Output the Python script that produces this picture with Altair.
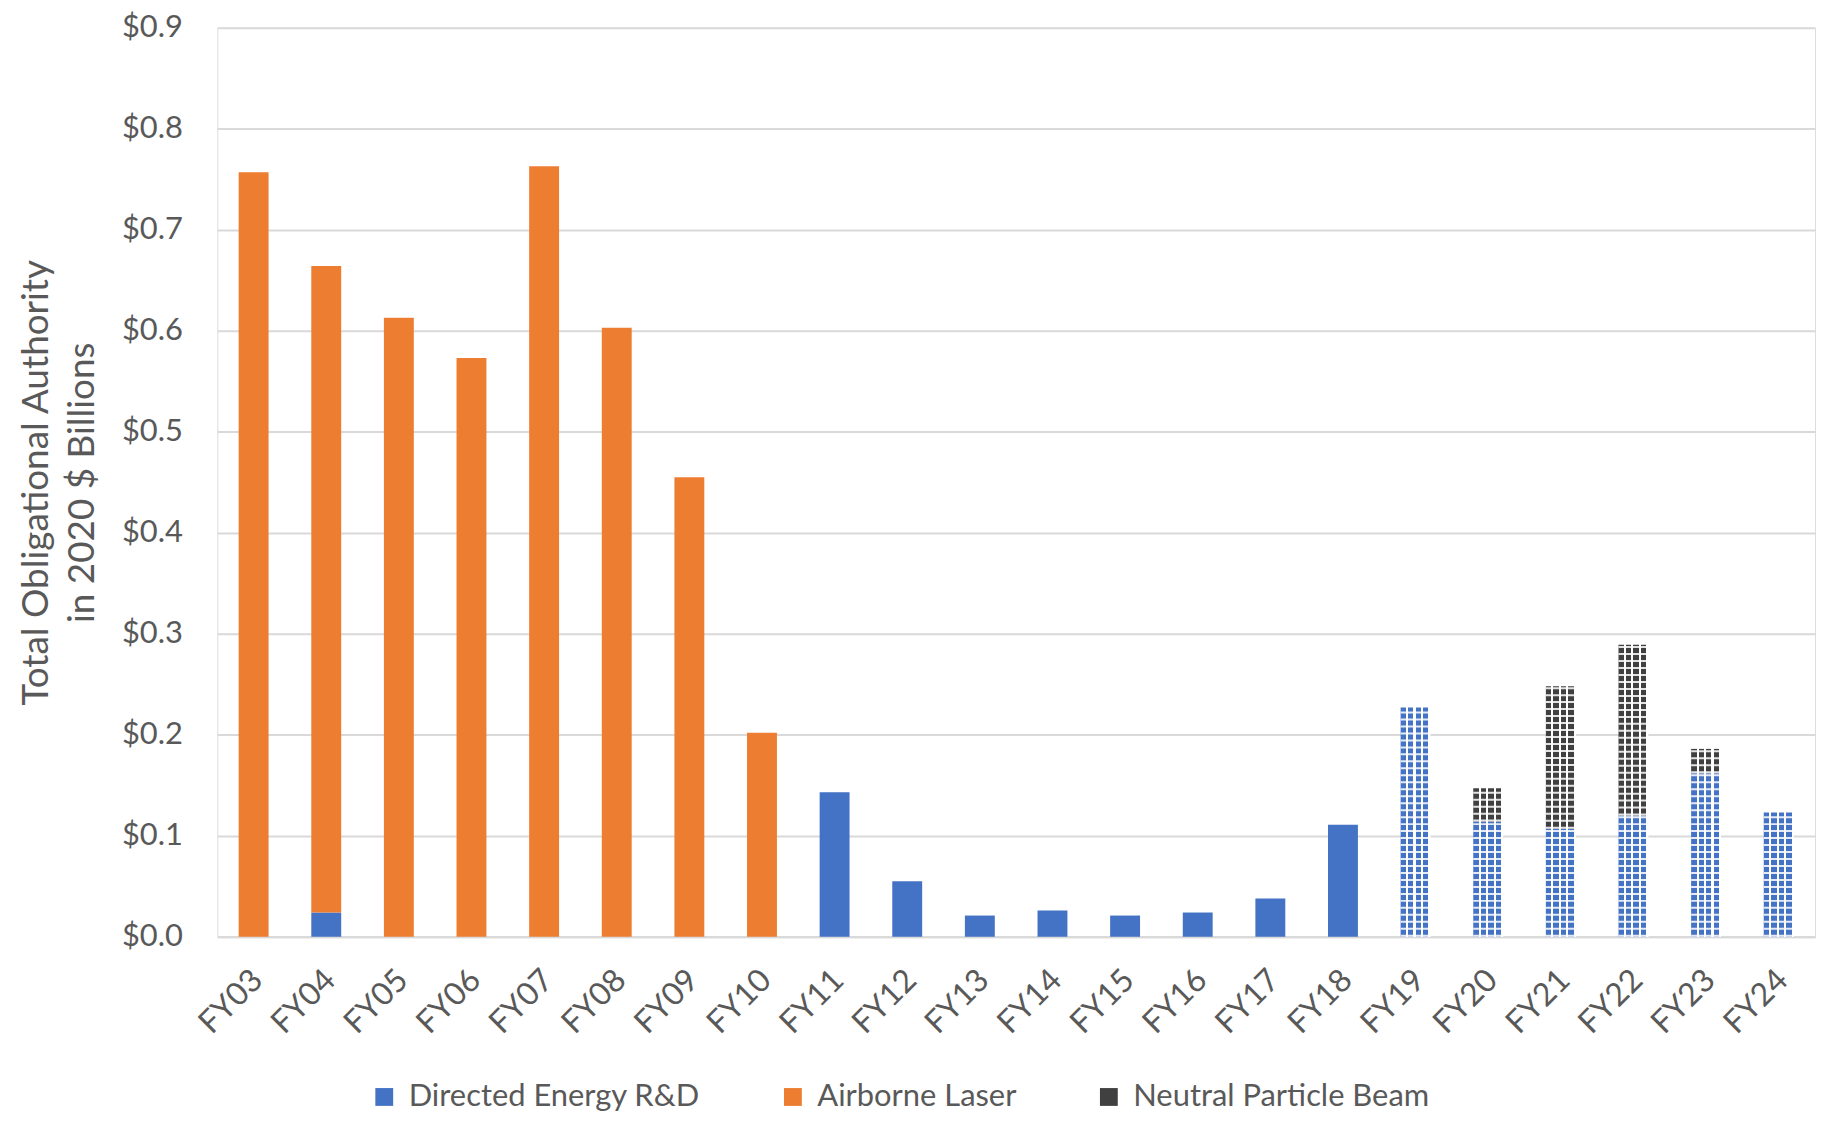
import altair as alt
import pandas as pd

years = ["FY03", "FY04", "FY05", "FY06", "FY07", "FY08", "FY09", "FY10", "FY11",
         "FY12", "FY13", "FY14", "FY15", "FY16", "FY17", "FY18", "FY19", "FY20",
         "FY21", "FY22", "FY23", "FY24"]
directed_energy = [0.0, 0.024, 0.0, 0.0, 0.0, 0.0, 0.0, 0.0, 0.143,
                   0.055, 0.021, 0.026, 0.021, 0.024, 0.038, 0.111, 0.227, 0.114,
                   0.107, 0.120, 0.162, 0.123]
airborne_laser = [0.757, 0.640, 0.613, 0.573, 0.763, 0.603, 0.455, 0.202, 0.0,
                  0.0, 0.0, 0.0, 0.0, 0.0, 0.0, 0.0, 0.0, 0.0,
                  0.0, 0.0, 0.0, 0.0]
neutral_particle_beam = [0.0, 0.0, 0.0, 0.0, 0.0, 0.0, 0.0, 0.0, 0.0,
                         0.0, 0.0, 0.0, 0.0, 0.0, 0.0, 0.0, 0.0, 0.033,
                         0.141, 0.169, 0.024, 0.0]
series_names = ["Directed Energy R&D", "Airborne Laser", "Neutral Particle Beam"]
patterned_from = "FY19"

BLUE = "#4472C4"
ORANGE = "#ED7D31"
GRAY = "#404040"
TEXT = "#595959"
GRID = "#D9D9D9"
FONT = "Lato"

rows = []
first_pat = years.index(patterned_from)
for i, yr in enumerate(years):
    base = 0.0
    for name, vals in zip(series_names, [directed_energy, airborne_laser, neutral_particle_beam]):
        v = vals[i]
        if v > 0:
            rows.append({"year": yr, "series": name, "start": base, "end": base + v,
                         "patterned": i >= first_pat})
            base += v
df = pd.DataFrame(rows)


def stripes(color, n=4, frac=0.72):
    stops = []
    for k in range(n):
        a = k / n
        b = a + frac / n
        c = (k + 1) / n
        stops += [alt.GradientStop(offset=a, color=color), alt.GradientStop(offset=b, color=color),
                  alt.GradientStop(offset=b, color="white"), alt.GradientStop(offset=c, color="white")]
    return alt.Gradient(gradient="linear", stops=stops, x1=0, x2=1, y1=0, y2=0)


x_enc = alt.X("year:N", sort=years,
              scale=alt.Scale(paddingInner=0, paddingOuter=0),
              axis=alt.Axis(title=None, labelAngle=-45, labelAlign="right", labelBaseline="middle",
                            labelPadding=38, labelOffset=4, ticks=False, domain=True,
                            domainColor=GRID, domainWidth=2, grid=False,
                            labelFontSize=32, labelColor=TEXT, labelFont=FONT))
y_enc = alt.Y("start:Q",
              scale=alt.Scale(domain=[0, 0.9], nice=False),
              axis=alt.Axis(title=["Total Obligational Authority", "in 2020 $ Billions"],
                            values=[0, 0.1, 0.2, 0.3, 0.4, 0.5, 0.6, 0.7, 0.8, 0.9],
                            format="$.1f", labelPadding=35, ticks=False, domain=False,
                            grid=True, gridColor=GRID, gridWidth=2,
                            labelFontSize=31, labelColor=TEXT, labelFont=FONT,
                            titleFontSize=37, titleFontWeight="normal", titleColor=TEXT,
                            titleFont=FONT, titleAngle=-90, titleX=-181, titleY=456,
                            titleAlign="center", titleBaseline="middle", titleLineHeight=46))

base = alt.Chart(df)

solid = base.transform_filter("!datum.patterned").mark_bar(size=30).encode(
    x=x_enc, y=y_enc, y2="end:Q",
    color=alt.Color("series:N",
                    scale=alt.Scale(domain=series_names, range=[BLUE, ORANGE, GRAY]),
                    legend=alt.Legend(title=None, orient="none", direction="horizontal",
                                      legendX=152, legendY=1057, symbolType="square",
                                      symbolSize=320, symbolStrokeWidth=0,
                                      labelFontSize=31, labelColor=TEXT, labelFont=FONT,
                                      labelLimit=0, columnPadding=77, labelOffset=9)))

pat_blue = base.transform_filter(
    "datum.patterned && datum.series == 'Directed Energy R&D'").mark_bar(
    size=30, fill=stripes(BLUE)).encode(x=alt.X("year:N", sort=years), y="start:Q", y2="end:Q")

pat_gray = base.transform_filter(
    "datum.patterned && datum.series == 'Neutral Particle Beam'").mark_bar(
    size=30, fill=stripes(GRAY)).encode(x=alt.X("year:N", sort=years), y="start:Q", y2="end:Q")

dashes = base.transform_filter("datum.patterned").mark_rule(
    color="white", strokeWidth=30, strokeDash=[2, 5], strokeOpacity=0.85).encode(
    x=alt.X("year:N", sort=years, bandPosition=0.5), y="start:Q", y2="end:Q")

chart = alt.layer(solid, pat_blue, pat_gray, dashes).properties(
    width=1603, height=912,
    padding={"left": 210, "top": 18, "right": 4, "bottom": 176},
    autosize=alt.AutoSizeParams(type="none"),
).configure_view(stroke=None).configure(font=FONT)

chart.save("out.html", embed_options={"renderer": "svg", "actions": False})
